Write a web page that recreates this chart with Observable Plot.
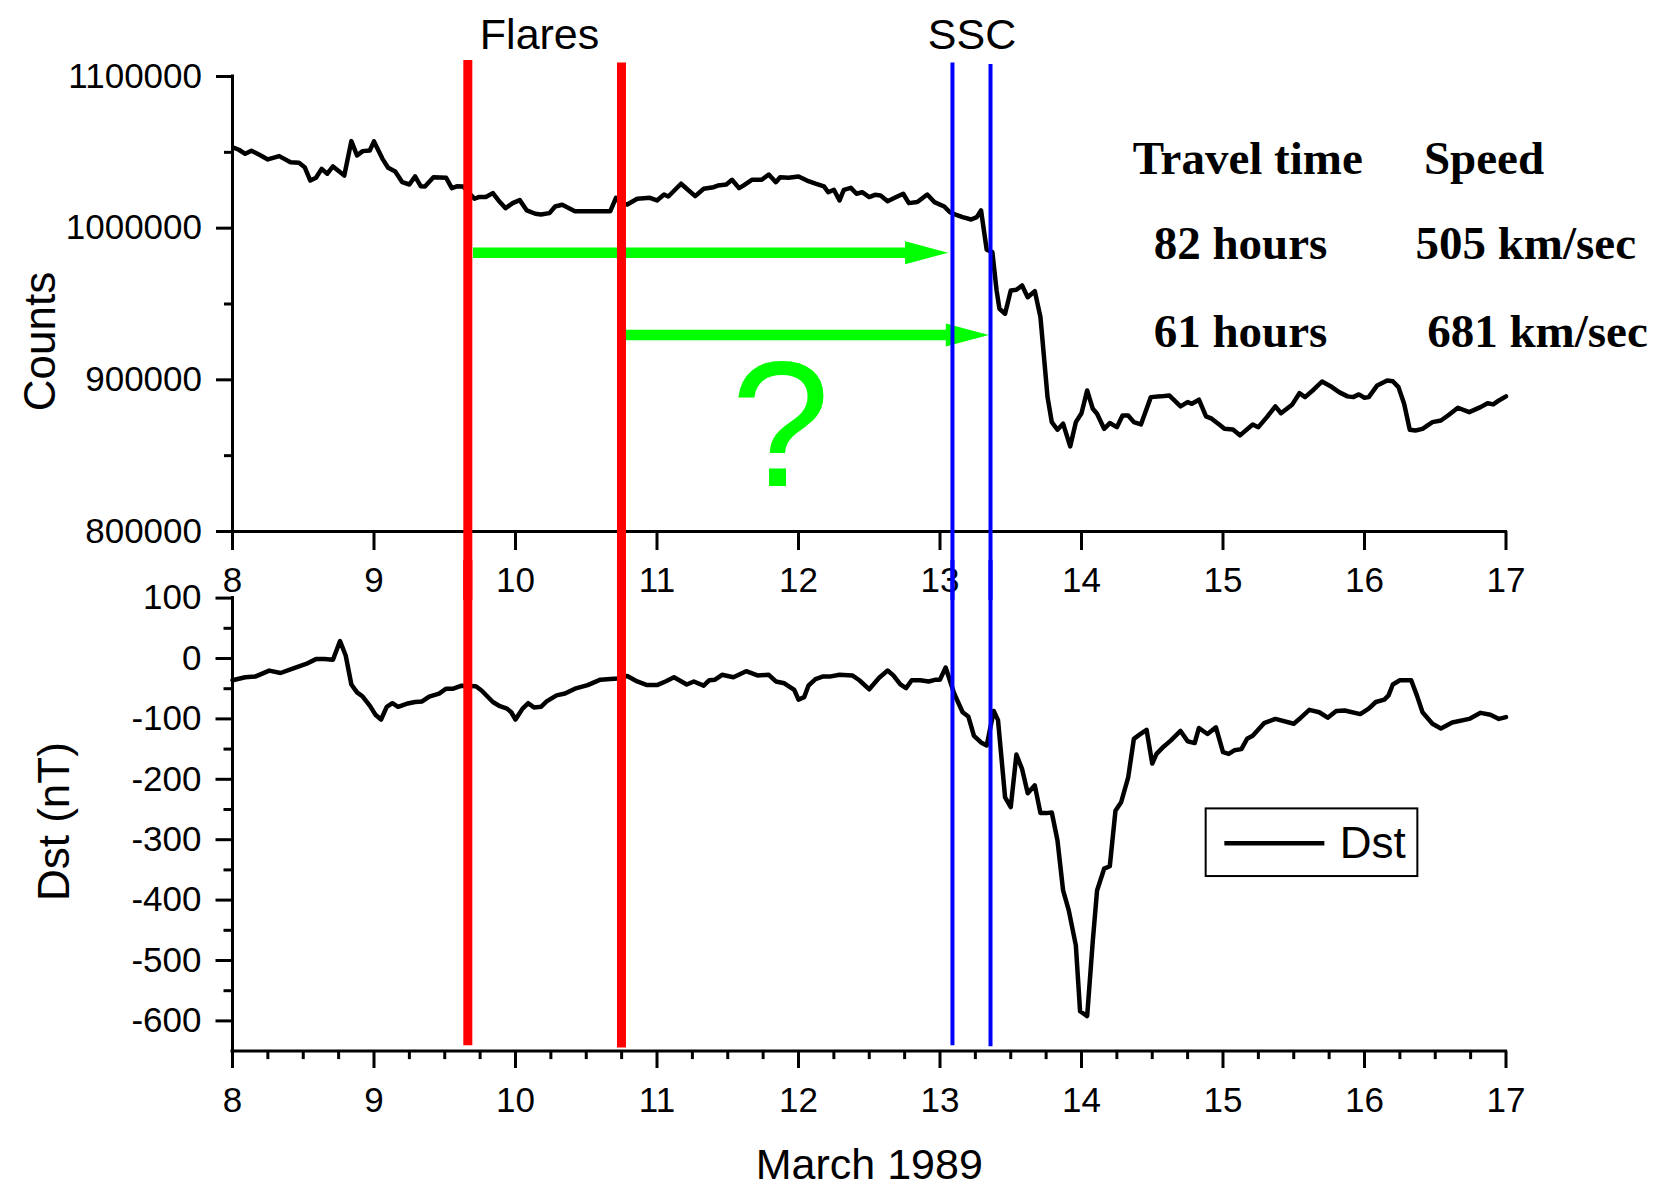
<!DOCTYPE html>
<html>
<head>
<meta charset="utf-8">
<script src="https://cdn.jsdelivr.net/npm/d3@7"></script>
<script src="https://cdn.jsdelivr.net/npm/@observablehq/plot@0.6"></script>
<style>
html, body { margin: 0; padding: 0; background: #fff; }
#wrap { position: relative; width: 1664px; height: 1188px; overflow: hidden; background: #fff; }
#top, #bottom { position: absolute; left: 0; }
#top { top: 0; }
#bottom { top: 560px; }
</style>
</head>
<body>
<div id="wrap"><div id="top"></div><div id="bottom"></div></div>
<script>
// ---------- data: neutron monitor counts (day of March 1989) ----------
const countDays = [8.01,8.045,8.09,8.134,8.19,8.25,8.33,8.41,8.47,8.51,8.55,8.59,8.63,8.67,8.71,8.79,8.84,8.88,8.92,8.97,9.00,9.06,9.10,9.15,9.20,9.25,9.29,9.33,9.36,9.42,9.51,9.55,9.59,9.63,9.71,9.74,9.79,9.84,9.88,9.93,9.98,10.03,10.08,10.14,10.18,10.24,10.28,10.33,10.42,10.51,10.67,10.71,10.74,10.79,10.86,10.95,11.00,11.05,11.08,11.17,11.21,11.27,11.33,11.40,11.43,11.49,11.53,11.58,11.61,11.67,11.74,11.79,11.84,11.87,11.93,12.00,12.06,12.12,12.18,12.21,12.25,12.29,12.32,12.37,12.41,12.45,12.50,12.54,12.58,12.63,12.68,12.74,12.78,12.84,12.91,12.96,13.03,13.07,13.11,13.16,13.22,13.26,13.29,13.33,13.37,13.40,13.42,13.46,13.50,13.54,13.58,13.62,13.67,13.71,13.76,13.79,13.83,13.87,13.92,13.96,14.00,14.04,14.08,14.11,14.16,14.20,14.25,14.29,14.33,14.37,14.42,14.49,14.56,14.62,14.70,14.75,14.78,14.83,14.88,14.92,14.98,15.01,15.07,15.12,15.21,15.25,15.31,15.37,15.41,15.49,15.54,15.58,15.64,15.70,15.76,15.82,15.88,15.92,15.96,16.00,16.03,16.09,16.16,16.20,16.24,16.28,16.32,16.36,16.41,16.48,16.54,16.59,16.66,16.74,16.82,16.87,16.91,16.95,17.00];
const countValues = [1053000,1051700,1049000,1051000,1048400,1045300,1047500,1043500,1043100,1040200,1031400,1033200,1039100,1035900,1040700,1034700,1057400,1047900,1050800,1051200,1057200,1045700,1039800,1037400,1030300,1028800,1034100,1027700,1027500,1033600,1033200,1026400,1027700,1027500,1019400,1020500,1020500,1023100,1018300,1013200,1016500,1018500,1011700,1009500,1009000,1009900,1014300,1015400,1011200,1011200,1011200,1020000,1016500,1015600,1019400,1020000,1018300,1022200,1020900,1029300,1026000,1021100,1026000,1027000,1028100,1028800,1031900,1026400,1028100,1031900,1031900,1035400,1030300,1033600,1033200,1034100,1031400,1029300,1027500,1023700,1025300,1018300,1025300,1026600,1022700,1023700,1020500,1022000,1021600,1017800,1020000,1022700,1016500,1017200,1022200,1017200,1014300,1010500,1009000,1007300,1005700,1007300,1011700,985800,984200,958900,946900,943600,958900,959400,962200,954500,958500,941300,888600,872100,867100,871100,856100,872100,878000,893000,880900,877600,867700,871500,868800,876500,876500,872100,870600,888600,889100,889700,882500,885300,884200,886900,875900,874400,870100,867800,867300,863400,870600,868800,875400,882500,878000,883800,891200,888600,893500,898900,895800,891900,889100,888600,890400,888200,888600,896300,899600,899100,895200,884200,867100,866600,867700,872100,873200,876500,881600,878700,882000,884600,883800,886400,889100];

// ---------- data: Dst index (nT) ----------
const dstDays = [8.00,8.09,8.16,8.26,8.34,8.42,8.52,8.59,8.65,8.71,8.76,8.80,8.84,8.88,8.92,8.97,9.01,9.05,9.09,9.13,9.17,9.23,9.29,9.34,9.39,9.46,9.51,9.56,9.62,9.72,9.76,9.84,9.89,9.94,9.97,10.00,10.05,10.09,10.13,10.18,10.22,10.29,10.35,10.42,10.51,10.60,10.72,10.79,10.86,10.93,11.00,11.06,11.12,11.21,11.26,11.33,11.37,11.41,11.46,11.54,11.63,11.71,11.79,11.84,11.90,11.97,12.00,12.04,12.07,12.12,12.17,12.22,12.29,12.38,12.43,12.50,12.57,12.63,12.67,12.72,12.76,12.80,12.86,12.92,12.97,13.00,13.04,13.10,13.16,13.20,13.24,13.29,13.33,13.38,13.41,13.46,13.50,13.54,13.58,13.62,13.67,13.71,13.75,13.79,13.83,13.87,13.91,13.96,13.99,14.04,14.08,14.11,14.16,14.20,14.24,14.28,14.33,14.37,14.41,14.46,14.50,14.53,14.58,14.63,14.70,14.75,14.80,14.83,14.89,14.95,15.00,15.04,15.08,15.13,15.17,15.21,15.29,15.37,15.50,15.55,15.61,15.68,15.74,15.80,15.86,15.97,16.03,16.08,16.14,16.17,16.20,16.25,16.33,16.37,16.41,16.48,16.54,16.62,16.74,16.82,16.89,16.95,17.00];
const dstValues = [-36,-31,-30,-20,-24,-17,-9,-1,-1,-2,29,5,-43,-56,-63,-78,-93,-101,-80,-74,-80,-75,-72,-71,-63,-58,-50,-50,-45,-46,-53,-72,-79,-83,-89,-101,-83,-74,-81,-80,-71,-61,-58,-50,-44,-35,-33,-29,-38,-44,-44,-38,-31,-43,-38,-45,-36,-35,-27,-31,-21,-28,-27,-38,-41,-52,-68,-64,-45,-34,-30,-30,-27,-28,-36,-51,-32,-20,-28,-43,-49,-36,-36,-38,-35,-35,-15,-58,-89,-96,-128,-139,-144,-87,-102,-230,-246,-159,-183,-223,-210,-256,-256,-255,-301,-384,-417,-475,-584,-592,-467,-384,-348,-344,-252,-238,-197,-133,-126,-118,-174,-158,-146,-136,-120,-137,-140,-115,-125,-114,-155,-158,-152,-150,-133,-128,-107,-100,-108,-98,-85,-89,-98,-87,-86,-92,-83,-72,-68,-61,-43,-36,-36,-61,-89,-108,-116,-106,-100,-90,-93,-100,-97];

// ---------- ticks ----------
const xTicks = [8, 9, 10, 11, 12, 13, 14, 15, 16, 17];
const xMinorTicks = d3.range(8.25, 17, 0.25).filter(d => d % 1 !== 0);
const countTicks = [800000, 900000, 1000000, 1100000];
const countMinorTicks = [850000, 950000, 1050000];
const dstTicks = [-600, -500, -400, -300, -200, -100, 0, 100];
const dstMinorTicks = [-550, -450, -350, -250, -150, -50, 50];

// ---------- events: flares (red) and SSC (blue) ----------
const eventKinds = ["flare", "flare", "ssc", "ssc"];
const eventDays = [9.663, 10.749, 13.088, 13.357];
const eventTopCounts = [1110500, 1108900, 1108900, 1107900];
const eventBottomDst = [-641, -645, -641, -643];

// ---------- travel arrows ----------
const arrowStartDays = [9.703, 10.784];
const arrowTipDays = [13.057, 13.345];
const arrowCounts = [983800, 929600];

// ---------- annotation texts ----------
const eventLabels = ["Flares", "SSC"];
const eventLabelDays = [10.17, 13.226];
const eventLabelCount = 1118400;
const tableTexts = ["Travel time", "Speed", "82 hours", "505 km/sec", "61 hours", "681 km/sec"];
const tableDays = [14.362, 16.42, 14.51, 16.36, 14.51, 16.443];
const tableCounts = [1035400, 1035400, 979800, 979800, 921400, 921400];
const questionText = "?";
const questionDay = 11.873;
const questionCount = 829700;

// ---------- legend ----------
const legendLabel = "Dst";
const legendBox = {x1: 14.881, x2: 16.377, y1: -249, y2: -361};
const legendLine = {x1: 15.013, x2: 15.72, y: -306};
const legendText = {x: 15.825, y: -331};

// ---------- build tables ----------
const counts = countDays.map((d, i) => ({day: d, value: countValues[i]}));
const dst = dstDays.map((d, i) => ({day: d, value: dstValues[i]}));
const events = eventDays.map((d, i) => ({day: d, kind: eventKinds[i], top: eventTopCounts[i], bottom: eventBottomDst[i]}));
const arrows = arrowStartDays.map((d, i) => ({start: d, tip: arrowTipDays[i], end: arrowTipDays[i] - 0.2, y: arrowCounts[i]}));
const eventTexts = eventLabels.map((t, i) => ({text: t, day: eventLabelDays[i], y: eventLabelCount}));
const table = tableTexts.map((t, i) => ({text: t, day: tableDays[i], y: tableCounts[i]}));

const GREEN = "#00ff00";
const eventColor = k => k === "flare" ? "#ff0000" : "#0000ff";
const eventWidth = k => k === "flare" ? 9 : 4;
const arrowHead = {
  draw(ctx) {
    ctx.moveTo(0, 0);
    ctx.lineTo(-43, -11.5);
    ctx.lineTo(-43, 11.5);
    ctx.closePath();
  }
};

const baseStyle = {
  fontFamily: "'Liberation Sans', Arial, sans-serif",
  fontSize: "35px",
  color: "black",
  background: "transparent"
};

const W = 1664;
const ML = 232, MR = 158.5;
const LINE_W = 4.5;

// ---------- top panel: Counts ----------
const topPlot = Plot.plot({
  width: W,
  height: 600,
  marginLeft: ML,
  marginRight: MR,
  marginTop: 76,
  marginBottom: 69,
  x: {domain: [8, 17], axis: null},
  y: {domain: [800000, 1100000], axis: null},
  style: baseStyle,
  marks: [
    Plot.axisY(countTicks, {anchor: "left", tickSize: 16, tickPadding: 14.5, fontSize: 35, strokeWidth: 3, tickFormat: d => String(d), label: null}),
    Plot.axisY(countMinorTicks, {anchor: "left", tickSize: 8, strokeWidth: 3, fill: "none", label: null}),
    Plot.axisX(xTicks, {anchor: "bottom", tickSize: 19, tickPadding: 17, fontSize: 35, strokeWidth: 3, tickFormat: d => String(d), label: null}),
    Plot.ruleX([8], {stroke: "black", strokeWidth: 3, strokeLinecap: "square"}),
    Plot.ruleY([800000], {stroke: "black", strokeWidth: 3, strokeLinecap: "square"}),
    Plot.line(counts, {x: "day", y: "value", stroke: "black", strokeWidth: LINE_W, strokeLinejoin: "round"}),
    Plot.ruleY(arrows, {y: "y", x1: "start", x2: "end", stroke: GREEN, strokeWidth: 10.5}),
    Plot.dot(arrows, {x: "tip", y: "y", symbol: arrowHead, fill: GREEN, stroke: "none", r: 10}),
    Plot.ruleX(events, {x: "day", y1: "top", y2: 750000, stroke: d => eventColor(d.kind), strokeWidth: d => eventWidth(d.kind)}),
    Plot.text(eventTexts, {x: "day", y: "y", text: "text", fontSize: 43, textAnchor: "middle", lineAnchor: "bottom", fill: "black"}),
    Plot.text(table, {x: "day", y: "y", text: "text", fontSize: 47, fontFamily: "'Liberation Serif', 'Times New Roman', serif", fontWeight: "bold", textAnchor: "start", lineAnchor: "bottom", fill: "black"}),
    Plot.text([questionText], {x: () => questionDay, y: () => questionCount, text: d => d, fontSize: 178, textAnchor: "middle", lineAnchor: "bottom", fill: GREEN}),
    Plot.text(["Counts"], {frameAnchor: "left", text: d => d, rotate: -90, fontSize: 44, textAnchor: "middle", lineAnchor: "middle", dx: -192, dy: 37.5, fill: "black"})
  ]
});
document.getElementById("top").appendChild(topPlot);

// ---------- bottom panel: Dst ----------
const bottomPlot = Plot.plot({
  width: W,
  height: 628,
  marginLeft: ML,
  marginRight: MR,
  marginTop: 37.6,
  marginBottom: 137.4,
  x: {domain: [8, 17], axis: null},
  y: {domain: [-650, 100], axis: null},
  style: baseStyle,
  marks: [
    Plot.axisY(dstTicks, {anchor: "left", tickSize: 16.5, tickPadding: 14.5, fontSize: 35, strokeWidth: 3, tickFormat: d => String(d), label: null}),
    Plot.axisY(dstMinorTicks, {anchor: "left", tickSize: 8.5, strokeWidth: 3, fill: "none", label: null}),
    Plot.axisX(xTicks, {anchor: "bottom", tickSize: 17.4, tickPadding: 18.5, fontSize: 35, strokeWidth: 3, tickFormat: d => String(d), label: null}),
    Plot.axisX(xMinorTicks, {anchor: "bottom", tickSize: 8.5, strokeWidth: 3, fill: "none", label: null}),
    Plot.ruleX([8], {stroke: "black", strokeWidth: 3, strokeLinecap: "square"}),
    Plot.ruleY([-650], {stroke: "black", strokeWidth: 3, strokeLinecap: "square"}),
    Plot.line(dst, {x: "day", y: "value", stroke: "black", strokeWidth: LINE_W, strokeLinejoin: "round"}),
    Plot.ruleX(events, {x: "day", y1: 175, y2: "bottom", stroke: d => eventColor(d.kind), strokeWidth: d => eventWidth(d.kind)}),
    Plot.rect([legendBox], {x1: "x1", x2: "x2", y1: "y1", y2: "y2", fill: "none", stroke: "black", strokeWidth: 2}),
    Plot.ruleY([legendLine], {y: "y", x1: "x1", x2: "x2", stroke: "black", strokeWidth: 4.5}),
    Plot.text([legendText], {x: "x", y: "y", text: () => legendLabel, fontSize: 44, textAnchor: "start", lineAnchor: "bottom", fill: "black"}),
    Plot.text(["Dst (nT)"], {frameAnchor: "left", text: d => d, rotate: -90, fontSize: 44, textAnchor: "middle", lineAnchor: "middle", dx: -178, dy: -3, fill: "black"}),
    Plot.text(["March 1989"], {frameAnchor: "bottom", text: d => d, fontSize: 43, textAnchor: "middle", lineAnchor: "bottom", dy: 127.5, fill: "black"})
  ]
});
document.getElementById("bottom").appendChild(bottomPlot);
</script>
</body>
</html>
